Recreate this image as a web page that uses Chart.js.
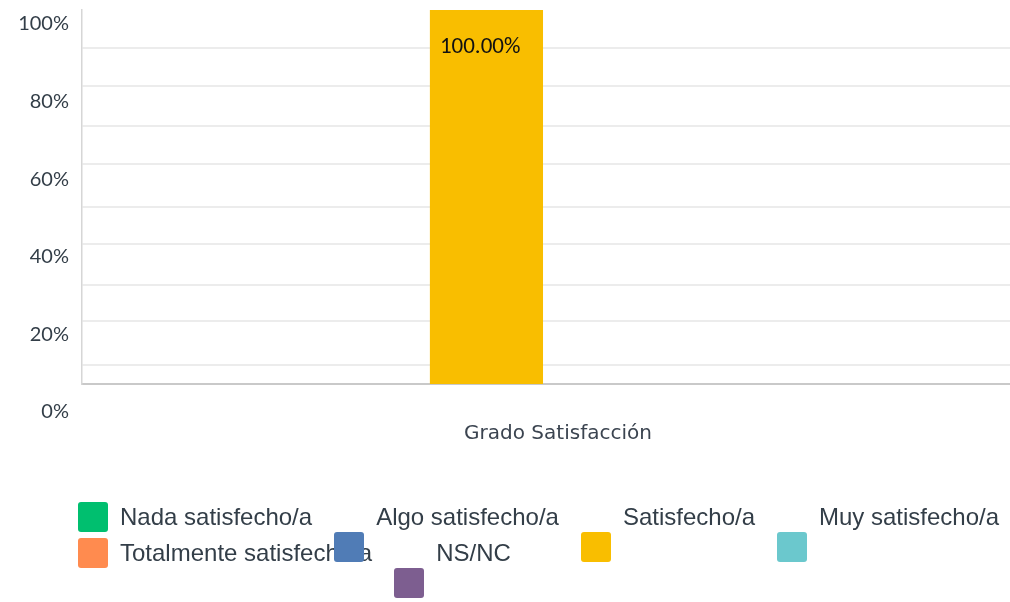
<!DOCTYPE html>
<html>
<head>
<meta charset="utf-8">
<title>Grado Satisfacción</title>
<script src="https://cdn.jsdelivr.net/npm/chart.js@4.4.1/dist/chart.umd.min.js"></script>
<style>
  body { margin: 0; background: #fff; }
  #wrap { position: relative; width: 1010px; height: 602px; }
  #wrap canvas { position: absolute; left: 0; top: 0; }
  .legend-row { position: absolute; left: 78px; display: flex; align-items: flex-start; gap: 22px; }
  .legend-item { display: flex; align-items: flex-start; }
  .legend-box { width: 30px; height: 30px; border-radius: 3px; margin-right: 12px; position: relative; z-index: 2; flex: none; }
  .legend-text { font: 24px "Liberation Sans", Arial, sans-serif; color: #333e48; line-height: 30px; white-space: nowrap; }
</style>
</head>
<body>
<div id="wrap">
  <canvas id="satChart" width="1010" height="602"></canvas>
  <div id="legend"></div>
</div>
<script>
// data
const categories = ['Grado Satisfacción'];
const seriesNames = ['Nada satisfecho/a', 'Algo satisfecho/a', 'Satisfecho/a', 'Muy satisfecho/a', 'Totalmente satisfecho/a', 'NS/NC'];
const seriesValues = [0, 0, 100, 0, 0, 0];
const seriesColors = ['#00BF6F', '#507CB6', '#F9BE00', '#6BC8CD', '#FF8B4F', '#7D5E90'];
const yTickValues = [0, 20, 40, 60, 80, 100];
const yTickLabels = ['0%', '20%', '40%', '60%', '80%', '100%'];
const gridValues = [5.1, 16.8, 26.5, 37.4, 47.4, 58.9, 69.1, 79.8, 89.8];

// value label on top of the bar
const barLabels = {
  id: 'barLabels',
  afterDatasetsDraw(chart) {
    const ctx = chart.ctx;
    ctx.save();
    ctx.font = '23px Carlito, Lato, sans-serif';
    ctx.fillStyle = '#111111';
    ctx.textAlign = 'left';
    ctx.textBaseline = 'middle';
    chart.data.datasets.forEach((ds, i) => {
      chart.getDatasetMeta(i).data.forEach((bar, j) => {
        const v = ds.data[j];
        if (!v) return;
        ctx.fillText(v.toFixed(2) + '%', bar.x - bar.width / 2 + 10, bar.y + 37);
      });
    });
    ctx.restore();
  }
};

const ctx = document.getElementById('satChart').getContext('2d');
const chart = new Chart(ctx, {
  type: 'bar',
  data: {
    labels: categories,
    datasets: seriesNames.map((name, i) => ({
      label: name,
      data: [seriesValues[i]],
      backgroundColor: seriesColors[i],
      borderWidth: 0,
      barPercentage: 0.95,
      categoryPercentage: 0.77
    }))
  },
  options: {
    responsive: false,
    animation: false,
    layout: { padding: { top: 10, right: 0, bottom: 156, left: 0 } },
    plugins: {
      legend: { display: false },
      tooltip: { enabled: false }
    },
    scales: {
      x: {
        grid: { display: false, drawTicks: false },
        border: { color: '#c9c9c9', width: 2 },
        ticks: {
          padding: 38,
          labelOffset: 12,
          color: '#3b4450',
          font: { family: '"DejaVu Sans", sans-serif', size: 20 }
        },
        afterFit(scale) { scale.height = 62; }
      },
      y: {
        position: 'left',
        weight: 0,
        min: 0,
        max: 100,
        grid: { color: '#ececec', lineWidth: 2, drawTicks: false },
        border: { color: '#d6d6d6', width: 1.5 },
        ticks: { display: false },
        afterBuildTicks(scale) { scale.ticks = gridValues.map(v => ({ value: v })); },
        afterFit(scale) { scale.width = 0; }
      },
      yLabels: {
        type: 'linear',
        position: 'left',
        weight: 1,
        min: 7.2,
        max: 103.6,
        grid: { display: false, drawTicks: false },
        border: { display: false },
        ticks: {
          autoSkip: false,
          padding: 13,
          color: '#333e48',
          font: { family: 'Lato, sans-serif', size: 20 },
          callback: (v, i) => yTickLabels[i]
        },
        afterBuildTicks(scale) { scale.ticks = yTickValues.map(v => ({ value: v })); },
        afterFit(scale) {
          scale.width = 82;
          scale.paddingTop = 0;
          scale.paddingBottom = 0;
        }
      }
    }
  },
  plugins: [barLabels]
});

// legend (html), 4 items per row
const legend = document.getElementById('legend');
const perRow = 4;
for (let r = 0; r * perRow < seriesNames.length; r++) {
  const row = document.createElement('div');
  row.className = 'legend-row';
  row.style.top = (502 + 36 * r) + 'px';
  seriesNames.slice(r * perRow, r * perRow + perRow).forEach((name, k) => {
    const i = r * perRow + k;
    const item = document.createElement('div');
    item.className = 'legend-item';
    const box = document.createElement('span');
    box.className = 'legend-box';
    box.style.background = seriesColors[i];
    if (k > 0) box.style.marginTop = '30px';
    const txt = document.createElement('span');
    txt.className = 'legend-text';
    txt.textContent = name;
    item.appendChild(box);
    item.appendChild(txt);
    row.appendChild(item);
  });
  legend.appendChild(row);
}
</script>
</body>
</html>
